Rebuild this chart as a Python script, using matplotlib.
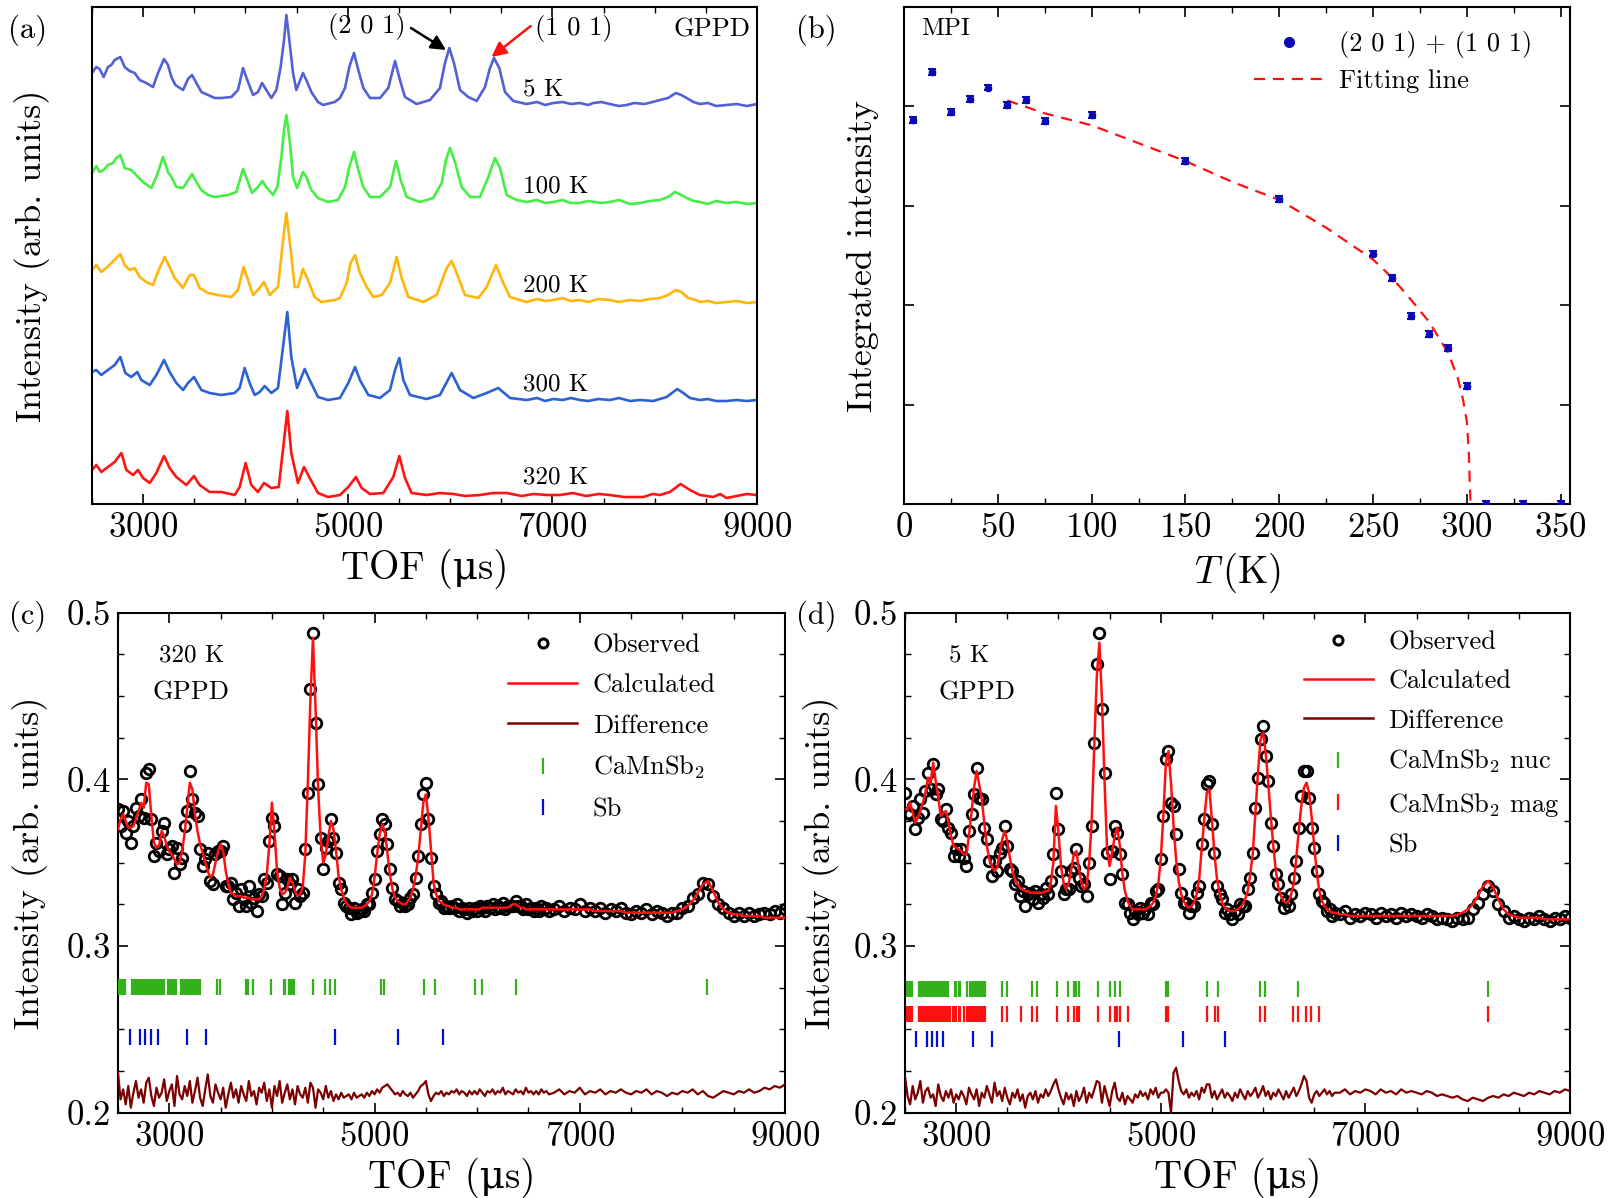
import numpy as np
import matplotlib
matplotlib.use("Agg")
import matplotlib.pyplot as plt
from matplotlib.lines import Line2D
from matplotlib.ticker import MultipleLocator, FixedLocator, NullLocator

plt.rcParams['font.family'] = ['cmr10', 'DejaVu Serif']
plt.rcParams['mathtext.fontset'] = 'cm'
plt.rcParams['axes.formatter.use_mathtext'] = True
plt.rcParams['axes.linewidth'] = 1.5

# ---------------- Panel (a): stacked TOF patterns (arb. units) ----------------
tof_5K = [2500, 2542, 2575, 2614, 2656, 2689, 2722, 2777, 2819, 2868,
          2917, 2966, 3031, 3096, 3145, 3204, 3243, 3276, 3315, 3390,
          3438, 3478, 3520, 3569, 3634, 3699, 3764, 3862, 3927, 3976,
          4018, 4074, 4122, 4162, 4204, 4253, 4302, 4344, 4377, 4400,
          4432, 4465, 4497, 4562, 4595, 4644, 4709, 4758, 4872, 4924,
          4973, 5015, 5061, 5103, 5152, 5217, 5315, 5396, 5462, 5510,
          5559, 5673, 5804, 5901, 5950, 5993, 6038, 6097, 6178, 6260,
          6341, 6390, 6429, 6481, 6537, 6618, 6748, 6850, 6930, 7009,
          7100, 7180, 7270, 7350, 7400, 7480, 7560, 7650, 7726, 7800,
          7900, 7980, 8051, 8130, 8208, 8260, 8312, 8380, 8442, 8520,
          8600, 8703, 8800, 8900, 9000]
int_5K = [431, 437, 435, 427, 437, 439, 444, 447, 437, 433,
          431, 424, 421, 417, 431, 445, 439, 427, 419, 414,
          425, 429, 421, 412, 409, 406, 406, 407, 414, 436,
          424, 409, 412, 421, 414, 406, 414, 437, 464, 489,
          461, 431, 414, 431, 424, 412, 402, 399, 402, 406,
          416, 437, 451, 434, 416, 406, 406, 416, 443, 424,
          407, 400, 404, 416, 441, 456, 441, 414, 407, 403,
          417, 436, 446, 436, 412, 403, 400, 402, 399, 401,
          402, 400, 401, 399, 401, 402, 400, 398, 399, 401,
          400, 402, 404, 406, 411, 409, 406, 402, 400, 401,
          398, 399, 400, 398, 400]

tof_100K = [2500, 2542, 2575, 2614, 2656, 2705, 2738, 2777, 2819, 2884,
            2950, 2999, 3080, 3129, 3194, 3243, 3276, 3324, 3390, 3478,
            3520, 3569, 3634, 3699, 3829, 3911, 3976, 4018, 4064, 4122,
            4165, 4204, 4269, 4312, 4351, 4377, 4400, 4432, 4465, 4504,
            4562, 4595, 4644, 4709, 4807, 4904, 4973, 5015, 5061, 5103,
            5152, 5217, 5315, 5413, 5472, 5517, 5576, 5706, 5836, 5918,
            5960, 5999, 6048, 6113, 6195, 6292, 6374, 6439, 6488, 6553,
            6651, 6748, 6850, 6930, 7009, 7100, 7180, 7270, 7350, 7480,
            7563, 7650, 7760, 7856, 7950, 8051, 8130, 8198, 8260, 8312,
            8380, 8442, 8520, 8600, 8703, 8800, 8900, 9000]
int_100K = [331, 338, 332, 334, 339, 341, 346, 349, 336, 334,
            327, 322, 316, 327, 347, 332, 327, 317, 316, 330,
            322, 314, 309, 307, 309, 312, 335, 324, 311, 317,
            323, 317, 309, 317, 347, 374, 389, 364, 327, 316,
            332, 327, 314, 306, 302, 304, 317, 337, 352, 334,
            317, 307, 307, 317, 343, 324, 307, 302, 306, 321,
            344, 356, 342, 317, 307, 307, 327, 346, 336, 309,
            304, 302, 304, 301, 302, 304, 301, 301, 303, 301,
            302, 304, 300, 301, 303, 304, 307, 312, 309, 306,
            303, 302, 300, 303, 301, 302, 300, 301]

tof_200K = [2500, 2542, 2591, 2640, 2689, 2777, 2819, 2868, 2917, 2966,
            3031, 3096, 3152, 3210, 3259, 3308, 3390, 3455, 3497, 3552,
            3634, 3732, 3862, 3927, 3982, 4025, 4074, 4139, 4181, 4237,
            4318, 4357, 4400, 4439, 4481, 4513, 4562, 4611, 4676, 4742,
            4872, 4924, 4989, 5028, 5071, 5119, 5185, 5250, 5331, 5413,
            5478, 5527, 5592, 5739, 5869, 5967, 6015, 6064, 6146, 6276,
            6358, 6449, 6520, 6586, 6748, 6850, 6930, 7009, 7100, 7180,
            7270, 7350, 7450, 7563, 7650, 7760, 7856, 7950, 8051, 8130,
            8208, 8260, 8328, 8400, 8442, 8520, 8600, 8703, 8800, 8900,
            9000]
int_200K = [234, 239, 232, 236, 241, 250, 239, 234, 236, 227,
            222, 219, 234, 247, 237, 226, 216, 229, 229, 216,
            211, 209, 207, 214, 237, 224, 209, 216, 222, 209,
            217, 254, 291, 257, 217, 217, 235, 224, 207, 202,
            204, 206, 221, 241, 249, 231, 217, 207, 209, 221,
            247, 226, 207, 202, 209, 236, 243, 231, 209, 206,
            217, 239, 221, 207, 202, 205, 203, 204, 206, 203,
            204, 202, 205, 204, 202, 204, 203, 205, 206, 209,
            214, 212, 206, 204, 202, 203, 201, 202, 203, 201,
            202]

tof_300K = [2500, 2542, 2591, 2656, 2722, 2777, 2826, 2884, 2943, 2982,
            3064, 3129, 3204, 3259, 3324, 3390, 3438, 3497, 3569, 3650,
            3764, 3895, 3943, 3992, 4041, 4090, 4139, 4188, 4253, 4318,
            4367, 4409, 4448, 4504, 4579, 4628, 4709, 4807, 4924, 5005,
            5071, 5119, 5201, 5315, 5413, 5462, 5504, 5543, 5608, 5771,
            5901, 6015, 6097, 6227, 6358, 6471, 6586, 6748, 6850, 6930,
            7009, 7100, 7180, 7270, 7350, 7450, 7563, 7650, 7760, 7856,
            7986, 8051, 8116, 8221, 8280, 8345, 8442, 8520, 8600, 8703,
            8800, 8900, 9000]
int_300K = [132, 134, 129, 134, 139, 147, 131, 127, 132, 124,
            119, 129, 144, 132, 121, 114, 121, 127, 114, 111,
            109, 111, 116, 136, 121, 109, 112, 118, 111, 116,
            157, 192, 147, 116, 135, 124, 107, 104, 106, 121,
            137, 124, 109, 106, 114, 134, 146, 124, 109, 105,
            109, 131, 114, 106, 111, 116, 106, 104, 106, 103,
            105, 104, 106, 104, 103, 105, 104, 106, 103, 104,
            103, 105, 107, 115, 111, 106, 104, 105, 103, 103,
            104, 103, 104]

tof_320K = [2500, 2542, 2591, 2656, 2722, 2787, 2836, 2901, 2950, 2999,
            3064, 3129, 3204, 3259, 3324, 3422, 3497, 3552, 3650, 3764,
            3895, 3943, 4002, 4057, 4122, 4181, 4253, 4325, 4370, 4409,
            4448, 4513, 4572, 4628, 4709, 4807, 4924, 5005, 5080, 5136,
            5217, 5348, 5445, 5504, 5559, 5624, 5771, 5900, 6032, 6150,
            6292, 6420, 6553, 6700, 6813, 6950, 7074, 7200, 7330, 7450,
            7563, 7700, 7889, 7980, 8051, 8149, 8253, 8345, 8442, 8573,
            8640, 8703, 8800, 8900, 9000]
int_320K = [34, 39, 32, 37, 42, 51, 34, 29, 34, 26,
            21, 31, 48, 36, 27, 19, 28, 19, 12, 12,
            9, 17, 41, 19, 12, 21, 16, 17, 57, 93,
            51, 21, 37, 26, 11, 7, 9, 17, 27, 16,
            10, 11, 27, 48, 26, 11, 9, 11, 10, 8,
            9, 11, 11, 8, 10, 9, 9, 11, 8, 10,
            9, 7, 7, 10, 9, 12, 20, 14, 9, 7,
            10, 6, 8, 10, 9]

temps_a = ['5 K', '100 K', '200 K', '300 K', '320 K']
label_y_a = [415, 318, 219, 120, 27]

# ---------------- Panel (b): MPI vs temperature ----------------
T_mpi = [5, 15, 25, 35, 45, 55, 65, 75, 100, 150, 200, 250, 260, 270, 280, 290, 300, 310, 330, 350]
I_mpi = [3.86, 4.35, 3.94, 4.07, 4.19, 4.01, 4.06, 3.85, 3.91, 3.45, 3.07, 2.52, 2.27, 1.89,
         1.71, 1.57, 1.19, 0.0, 0.0, 0.0]
err_mpi = [0.03] * 20
T_fit = [55, 75, 100, 125, 150, 175, 200, 225, 250, 260, 270, 280, 290, 295, 298, 300, 301, 301.5, 302]
I_fit = [4.06, 3.93, 3.81, 3.63, 3.45, 3.24, 3.06, 2.78, 2.46, 2.28, 2.06, 1.83, 1.52, 1.28,
         1.05, 0.83, 0.55, 0.25, 0.0]

# ---------------- Panels (c), (d): Rietveld refinements ----------------
# TOF bins: 25 us up to 6700 us, 50 us beyond
tof_fine_step, tof_coarse_step = 25, 50
tof_grid = np.concatenate([np.arange(2500, 6701, tof_fine_step), np.arange(6750, 9001, tof_coarse_step)])
DIFF_OFFSET = 0.212   # difference curve = observed - calculated + offset

# intensities in units of 1e-3
calc_c = [370, 376, 379, 375, 371, 371, 372, 376,
          381, 386, 383, 398, 397, 378, 362, 359,
          360, 369, 366, 360, 357, 355, 352, 349,
          350, 357, 368, 383, 398, 394, 379, 369,
          361, 356, 350, 345, 341, 343, 350, 357,
          361, 357, 345, 337, 332, 331, 330, 330,
          330, 329, 329, 329, 328, 328, 328, 328,
          330, 334, 343, 361, 386, 368, 345, 335,
          331, 332, 335, 341, 338, 333, 330, 331,
          335, 355, 398, 448, 485, 443, 395, 365,
          350, 355, 366, 375, 370, 357, 342, 334,
          329, 326, 324, 323, 323, 323, 323, 323,
          324, 325, 327, 331, 341, 355, 367, 373,
          369, 356, 343, 334, 329, 327, 326, 325,
          325, 327, 329, 334, 342, 353, 369, 386,
          391, 377, 358, 338, 331, 327, 326, 325,
          324, 324, 323, 323, 323, 322, 322, 322,
          322, 322, 322, 322, 322, 322, 323, 323,
          323, 323, 323, 323, 323, 323, 323, 323,
          323, 324, 325, 325, 324, 323, 323, 322,
          322, 322, 322, 322, 322, 322, 322, 322,
          322,
          322, 322, 322, 322, 322, 322, 322, 322,
          321, 321, 321, 321, 321, 321, 320, 320,
          320, 320, 320, 320, 320, 320, 320, 320,
          321, 322, 324, 327, 332, 337, 339, 333,
          326, 322, 320, 319, 319, 318, 318, 318,
          318, 317, 317, 317, 317, 317]
diff_c = [224, 208, 214, 205, 216, 203, 212, 219,
          209, 214, 206, 218, 221, 210, 204, 215,
          209, 212, 220, 207, 213, 217, 204, 222,
          211, 208, 216, 210, 219, 206, 213, 221,
          209, 204, 214, 223, 210, 206, 217, 212,
          208, 215, 203, 211, 218, 209, 214, 206,
          216, 211, 207, 219, 210, 213, 205, 215,
          212, 218, 207, 214, 203, 216, 210, 219,
          206, 212, 217, 208, 214, 205, 216, 211,
          209, 215, 206, 218, 215, 203, 214, 212,
          208, 216, 209, 213, 207, 211, 208, 212,
          209, 210, 211, 208, 212, 209, 210, 211,
          209, 212, 210, 213, 211, 214, 212, 215,
          216, 217, 215, 213, 211, 212, 210, 213,
          211, 210, 212, 209, 211, 213, 216, 217,
          219, 211, 207, 210, 212, 211, 213, 210,
          212, 211, 213, 212, 214, 211, 213, 212,
          210, 213, 211, 213, 211, 214, 212, 210,
          213, 212, 214, 211, 213, 212, 215, 211,
          213, 212, 211, 214, 212, 213, 211, 215,
          212, 213, 211, 213, 211, 214, 212, 213,
          211,
          212, 214, 211, 213, 212, 215, 211, 213,
          212, 214, 211, 213, 212, 214, 212, 211,
          213, 212, 214, 211, 213, 212, 210, 212,
          211, 213, 212, 214, 211, 213, 210, 209,
          211, 213, 212, 211, 213, 212, 214, 212,
          213, 215, 214, 216, 215, 217]

calc_d = [382, 382, 386, 380, 374, 377, 381, 386,
          392, 401, 397, 410, 399, 389, 378, 380,
          381, 374, 366, 360, 359, 358, 357, 355,
          355, 366, 380, 395, 405, 397, 388, 374,
          360, 352, 348, 345, 347, 355, 364, 369,
          363, 353, 345, 340, 337, 335, 334, 333,
          333, 332, 332, 332, 332, 332, 332, 333,
          333, 338, 350, 384, 368, 348, 338, 334,
          338, 346, 355, 357, 346, 338, 334, 336,
          350, 375, 420, 462, 482, 448, 400, 358,
          348, 356, 366, 371, 360, 343, 333, 327,
          324, 322, 322, 322, 322, 322, 322, 323,
          324, 326, 330, 337, 352, 378, 410, 417,
          398, 372, 352, 339, 331, 327, 324, 323,
          324, 326, 331, 340, 358, 376, 392, 394,
          376, 355, 340, 332, 326, 323, 322, 321,
          321, 321, 322, 323, 325, 328, 333, 343,
          356, 380, 404, 424, 428, 416, 398, 378,
          360, 345, 335, 330, 327, 326, 327, 331,
          338, 353, 370, 385, 395, 398, 392, 377,
          360, 344, 333, 327, 324, 322, 321, 320,
          320,
          319, 319, 318, 318, 318, 318, 318, 318,
          318, 318, 318, 318, 318, 318, 318, 318,
          318, 318, 318, 318, 318, 318, 318, 319,
          320, 322, 325, 330, 336, 339, 335, 328,
          322, 319, 318, 317, 317, 317, 317, 317,
          316, 316, 316, 316, 316, 316]
diff_d = [222, 210, 205, 216, 208, 212, 219, 206,
          213, 215, 209, 211, 204, 217, 210, 207,
          213, 209, 214, 206, 211, 208, 213, 210,
          205, 215, 211, 208, 214, 204, 212, 209,
          216, 211, 206, 218, 210, 213, 207, 215,
          209, 205, 212, 209, 214, 207, 211, 203,
          210, 212, 208, 213, 206, 211, 209, 214,
          210, 213, 217, 220, 214, 209, 205, 212,
          208, 211, 204, 213, 207, 210, 215, 206,
          212, 209, 214, 219, 218, 206, 216, 210,
          204, 213, 218, 209, 207, 212, 205, 210,
          208, 206, 211, 209, 213, 210, 212, 208,
          214, 211, 215, 209, 212, 212, 214, 212,
          200, 224, 227, 219, 213, 211, 214, 209,
          212, 210, 213, 208, 215, 212, 217, 217,
          209, 213, 208, 211, 214, 209, 212, 210,
          207, 212, 209, 214, 211, 208, 213, 210,
          212, 215, 209, 212, 216, 210, 213, 208,
          212, 210, 214, 211, 208, 213, 209, 212,
          215, 210, 213, 217, 222, 219, 209, 206,
          211, 213, 210, 212, 214, 211, 213, 210,
          212,
          212, 214, 211, 213, 212, 214, 213, 211,
          214, 212, 213, 211, 214, 212, 213, 212,
          211, 213, 212, 210, 211, 210, 209, 210,
          208, 207, 209, 208, 207, 209, 210, 209,
          211, 210, 212, 211, 210, 212, 211, 213,
          212, 211, 213, 212, 214, 213]

# Bragg reflection positions (TOF, us)
bragg_c_nuc = [2513, 2532, 2549, 2565, 2636, 2653, 2669, 2685, 2701, 2718, 2734, 2750, 2766, 2783,
               2799, 2815, 2831, 2848, 2864, 2880, 2896, 2913, 2929, 2945, 2987, 3007, 3026, 3046,
               3065, 3117, 3134, 3150, 3169, 3189, 3208, 3228, 3247, 3267, 3286, 3302, 3465, 3495,
               3748, 3767, 3816, 3995, 4115, 4131, 4163, 4183, 4199, 4215, 4401, 4521, 4570, 4618,
               5064, 5096, 5486, 5593, 5979, 6044, 6376, 8237]
bragg_c_sb = [2620, 2711, 2766, 2825, 2890, 3172, 3361, 4612, 5226, 5668]
bragg_d_nuc = [2518, 2534, 2550, 2567, 2632, 2648, 2664, 2681, 2697, 2713, 2730, 2746, 2762, 2778,
               2795, 2811, 2827, 2844, 2860, 2876, 2892, 2909, 2925, 2984, 3000, 3023, 3039, 3104,
               3137, 3153, 3169, 3186, 3202, 3218, 3235, 3251, 3267, 3283, 3453, 3495, 3740, 3788,
               3984, 4091, 4147, 4173, 4202, 4391, 4505, 4554, 4603, 5053, 5069, 5456, 5564, 5971,
               6014, 6346, 8200]
bragg_d_mag = [2518, 2534, 2550, 2567, 2632, 2648, 2664, 2681, 2697, 2713, 2730, 2746, 2762, 2778,
               2795, 2811, 2827, 2844, 2860, 2876, 2892, 2909, 2925, 2941, 2974, 2984, 3000, 3023,
               3039, 3072, 3104, 3130, 3137, 3153, 3169, 3186, 3202, 3218, 3235, 3251, 3267, 3283,
               3453, 3495, 3635, 3740, 3788, 3984, 4091, 4147, 4179, 4202, 4391, 4505, 4554, 4577,
               4603, 4678, 5053, 5069, 5456, 5531, 5557, 5971, 6014, 6297, 6339, 6421, 6466, 6551,
               8200]
bragg_d_sb = [2609, 2713, 2760, 2815, 2876, 3169, 3349, 4596, 5222, 5623]
bragg_level_c = {'nuc': 0.2755, 'sb': 0.2455}
bragg_level_d = {'nuc': 0.2745, 'mag': 0.2595, 'sb': 0.2445}

for name, arr in [('calc_c', calc_c), ('diff_c', diff_c), ('calc_d', calc_d), ('diff_d', diff_d)]:
    assert len(arr) == len(tof_grid), (name, len(arr), len(tof_grid))

# ---------------- style ----------------
COL = {'5 K': '#5461d6', '100 K': '#46ee46', '200 K': '#ffb60a', '300 K': '#2d62d4', '320 K': '#ff1414'}
C_CALC = '#ff1010'
C_DIFF = '#7b0000'
C_GREEN = '#33b01a'
C_RED = '#ff1010'
C_BLUE = '#0010d0'
C_MPI = '#0a0ab4'

TICK_FS = 25
XLAB_FS = 28
YLAB_FS = 26
ANN_FS = 19

fig = plt.figure(figsize=(16.19, 11.98), dpi=100)
ax_a = fig.add_axes([92 / 1619, 1 - 504 / 1198, 665 / 1619, 497 / 1198])
ax_b = fig.add_axes([904 / 1619, 1 - 504 / 1198, 666 / 1619, 497 / 1198])
ax_c = fig.add_axes([118 / 1619, 1 - 1112.7 / 1198, 667 / 1619, 500 / 1198])
ax_d = fig.add_axes([905 / 1619, 1 - 1112.7 / 1198, 665 / 1619, 500 / 1198])


def common_ticks(ax):
    ax.tick_params(which='both', direction='in', labelsize=TICK_FS, pad=6)
    ax.tick_params(which='major', length=7, width=1.2)
    ax.tick_params(which='minor', length=4, width=1.0)
    for s in ax.spines.values():
        s.set_linewidth(1.5)


def tof_axis(ax):
    ax.set_xlim(2500, 9000)
    ax.xaxis.set_major_locator(FixedLocator([3000, 5000, 7000, 9000]))
    ax.xaxis.set_minor_locator(MultipleLocator(500))
    ax.tick_params(axis='x', which='both', top=True, bottom=True)
    ax.set_xlabel('TOF (\u03bcs)', fontsize=XLAB_FS)
    ax.xaxis.set_label_coords(0.5, -0.09)


# ---- (a)
curves_a = [(tof_5K, int_5K), (tof_100K, int_100K), (tof_200K, int_200K),
            (tof_300K, int_300K), (tof_320K, int_320K)]
for (t, v), lab in zip(curves_a, temps_a):
    ax_a.plot(t, v, color=COL[lab], lw=1.9)
for lab, y in zip(temps_a, label_y_a):
    ax_a.text(6708, y, lab, fontsize=18, ha='left', va='center')
common_ticks(ax_a)
tof_axis(ax_a)
ax_a.set_ylim(0, 497)
ax_a.yaxis.set_major_locator(NullLocator())
ax_a.yaxis.set_minor_locator(NullLocator())
ax_a.set_ylabel('Intensity (arb. units)', fontsize=YLAB_FS)
ax_a.yaxis.set_label_coords(-0.063, 0.5)
ax_a.text(8560, 474, 'GPPD', fontsize=ANN_FS, ha='center', va='center')
ax_a.text(5183, 478, '(2 0 1)', fontsize=ANN_FS, ha='center', va='center')
ax_a.text(7211, 476, '(1 0 1)', fontsize=ANN_FS, ha='center', va='center')
ax_a.annotate('', xy=(5960, 454), xytext=(5618, 476),
              arrowprops=dict(arrowstyle='-|>', color='k', lw=1.8, mutation_scale=22,
                              shrinkA=0, shrinkB=0))
ax_a.annotate('', xy=(6405, 447), xytext=(6788, 478),
              arrowprops=dict(arrowstyle='-|>', color='#ff1010', lw=1.8, mutation_scale=22,
                              shrinkA=0, shrinkB=0))

# ---- (b)
ax_b.errorbar(T_mpi, I_mpi, yerr=err_mpi, fmt='o', color=C_MPI, ms=4.5, elinewidth=1.5,
              capsize=3, capthick=1.5, zorder=3)
ax_b.plot(T_fit, I_fit, color='#ff1010', lw=1.6, ls=(0, (5, 3.5)), zorder=2)
common_ticks(ax_b)
ax_b.set_xlim(0, 355)
ax_b.set_ylim(0, 5)
ax_b.xaxis.set_major_locator(MultipleLocator(50))
ax_b.xaxis.set_minor_locator(MultipleLocator(25))
ax_b.yaxis.set_major_locator(FixedLocator([1, 2, 3, 4]))
ax_b.yaxis.set_minor_locator(NullLocator())
ax_b.tick_params(axis='x', which='both', top=True, bottom=True)
ax_b.tick_params(axis='y', which='both', left=True, right=True, labelleft=False)
ax_b.set_xlabel(r'$T\,(\mathrm{K})$', fontsize=XLAB_FS)
ax_b.xaxis.set_label_coords(0.5, -0.095)
ax_b.set_ylabel('Integrated intensity', fontsize=YLAB_FS)
ax_b.yaxis.set_label_coords(-0.038, 0.5)
ax_b.text(0.062, 0.955, 'MPI', transform=ax_b.transAxes, fontsize=18, ha='center', va='center')
hb = [Line2D([], [], ls='none', marker='o', color=C_MPI, ms=7),
      Line2D([], [], color='#ff1010', lw=1.6, ls=(0, (5, 3.5)))]
ax_b.legend(hb, ['(2 0 1) + (1 0 1)', 'Fitting line'], loc='upper left',
            bbox_to_anchor=(0.526, 0.952), frameon=False, fontsize=ANN_FS,
            handlelength=2.6, handletextpad=0.6, labelspacing=0.45, borderpad=0, borderaxespad=0)


# ---- (c), (d)
def rietveld(ax, calc, diff, brags, temp_label, legend_labels, legend_anchor, spacing):
    calc_v = np.array(calc) / 1000.0
    diff_v = np.array(diff) / 1000.0
    obs_v = calc_v + (diff_v - DIFF_OFFSET)
    ax.plot(tof_grid, obs_v, ls='none', marker='o', mfc='none', mec='k', ms=7.6, mew=2.0, zorder=2)
    ax.plot(tof_grid, calc_v, color=C_CALC, lw=1.8, zorder=3)
    ax.plot(tof_grid, diff_v, color=C_DIFF, lw=1.6, zorder=3)
    handles = [Line2D([], [], ls='none', marker='o', mfc='none', mec='k', ms=6.5, mew=2.2),
               Line2D([], [], color=C_CALC, lw=1.8),
               Line2D([], [], color=C_DIFF, lw=1.8)]
    for pos, lev, col in brags:
        ax.plot(pos, [lev] * len(pos), ls='none', marker='|', color=col, ms=12, mew=1.6, zorder=3)
        handles.append(Line2D([], [], ls='none', marker='|', color=col, ms=12, mew=1.6))
    common_ticks(ax)
    tof_axis(ax)
    ax.set_ylim(0.2, 0.5)
    ax.yaxis.set_major_locator(MultipleLocator(0.1))
    ax.yaxis.set_minor_locator(MultipleLocator(0.025))
    ax.yaxis.set_major_formatter(plt.FuncFormatter(lambda v, p: f'{v:.1f}'))
    ax.tick_params(axis='y', which='both', left=True, right=True, pad=5)
    ax.set_ylabel('Intensity (arb. units)', fontsize=YLAB_FS)
    ax.text(temp_label[0], 0.914, temp_label[1], transform=ax.transAxes, fontsize=18,
            ha='center', va='center')
    ax.text(temp_label[2], 0.84, 'GPPD', transform=ax.transAxes, fontsize=ANN_FS,
            ha='center', va='center')
    ax.legend(handles, legend_labels, loc='upper left', bbox_to_anchor=legend_anchor,
              frameon=False, fontsize=ANN_FS, handlelength=2.6, handletextpad=0.6,
              labelspacing=spacing, borderpad=0, borderaxespad=0)


rietveld(ax_c, calc_c, diff_c,
         [(bragg_c_nuc, bragg_level_c['nuc'], C_GREEN), (bragg_c_sb, bragg_level_c['sb'], C_BLUE)],
         (0.111, '320 K', 0.110),
         ['Observed', 'Calculated', 'Difference', r'CaMnSb$_2$', 'Sb'], (0.585, 0.958), 0.62)
ax_c.yaxis.set_label_coords(-0.105, 0.5)

rietveld(ax_d, calc_d, diff_d,
         [(bragg_d_nuc, bragg_level_d['nuc'], C_GREEN), (bragg_d_mag, bragg_level_d['mag'], C_RED),
          (bragg_d_sb, bragg_level_d['sb'], C_BLUE)],
         (0.097, '5 K', 0.108),
         ['Observed', 'Calculated', 'Difference', r'CaMnSb$_2$ nuc', r'CaMnSb$_2$ mag', 'Sb'],
         (0.6, 0.964), 0.58)
ax_d.yaxis.set_label_coords(-0.099, 0.5)

# panel labels
for lab, x, y in [('(a)', 0.017, 0.975), ('(b)', 0.504, 0.975), ('(c)', 0.017, 0.486), ('(d)', 0.504, 0.486)]:
    fig.text(x, y, lab, fontsize=22, ha='center', va='center')

fig.savefig('out.png', dpi=100)
